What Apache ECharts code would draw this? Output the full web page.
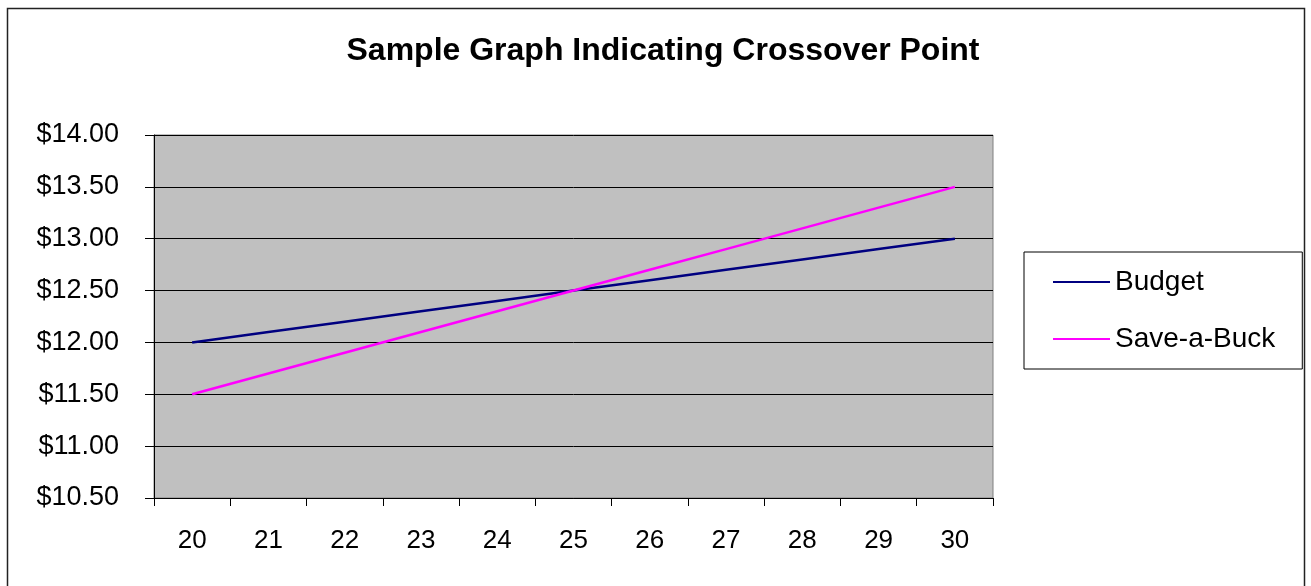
<!DOCTYPE html>
<html>
<head>
<meta charset="utf-8">
<script src="https://cdn.jsdelivr.net/npm/echarts@6/dist/echarts.min.js"></script>
<style>
html,body{margin:0;padding:0;background:#fff;}
#c{width:1311px;height:586px;}
</style>
</head>
<body>
<div id="c"></div>
<script>
const categories = ['20','21','22','23','24','25','26','27','28','29','30'];
const budget = [12.00, 12.10, 12.20, 12.30, 12.40, 12.50, 12.60, 12.70, 12.80, 12.90, 13.00];
const saveABuck = [11.50, 11.70, 11.90, 12.10, 12.30, 12.50, 12.70, 12.90, 13.10, 13.30, 13.50];
const seriesNames = ['Budget', 'Save-a-Buck'];
const titleText = 'Sample Graph Indicating Crossover Point';

const FONT = "'Liberation Sans', Arial, sans-serif";
const chart = echarts.init(document.getElementById('c'));
chart.setOption({
  backgroundColor: '#fff',
  animation: false,
  graphic: [{
    type: 'rect',
    shape: { x: 7.5, y: 8.5, width: 1297, height: 600 },
    style: { fill: 'none', stroke: '#222', lineWidth: 1.5 },
    silent: true, z: -1
  }],
  title: {
    text: titleText,
    left: 658, top: 30, textAlign: 'center',
    textStyle: { fontFamily: FONT, fontSize: 32, fontWeight: 'bold', color: '#000' }
  },
  legend: {
    orient: 'vertical',
    left: 1024, top: 252,
    padding: [16, 27, 16, 29],
    icon: 'rect',
    itemWidth: 57, itemHeight: 2, itemGap: 29,
    borderColor: '#000', borderWidth: 1,
    textStyle: { fontFamily: FONT, fontSize: 28, color: '#000' },
    data: seriesNames
  },
  grid: {
    left: 154, top: 135, right: 318, bottom: 88,
    show: true, backgroundColor: '#c0c0c0', borderColor: '#808080', borderWidth: 1
  },
  xAxis: {
    type: 'category',
    data: categories,
    boundaryGap: true,
    axisLine: { lineStyle: { color: '#000', width: 1 } },
    axisTick: { show: true, length: 8, lineStyle: { color: '#000' } },
    axisLabel: { margin: 30, fontFamily: FONT, fontSize: 26, color: '#000' },
    splitLine: { show: false }
  },
  yAxis: {
    type: 'value',
    min: 10.5, max: 14, interval: 0.5,
    axisLine: { show: true, lineStyle: { color: '#000', width: 1 } },
    axisTick: { show: true, length: 9, lineStyle: { color: '#000' } },
    axisLabel: { margin: 35, fontFamily: FONT, fontSize: 27, color: '#000',
      formatter: v => '$' + v.toFixed(2) },
    splitLine: { show: true, lineStyle: { color: '#000', width: 1 } }
  },
  series: [
    { name: seriesNames[0], type: 'line', data: budget, symbol: 'none',
      lineStyle: { color: '#000080', width: 2.5 }, itemStyle: { color: '#000080' } },
    { name: seriesNames[1], type: 'line', data: saveABuck, symbol: 'none',
      lineStyle: { color: '#ff00ff', width: 2.5 }, itemStyle: { color: '#ff00ff' } }
  ]
});
</script>
</body>
</html>
